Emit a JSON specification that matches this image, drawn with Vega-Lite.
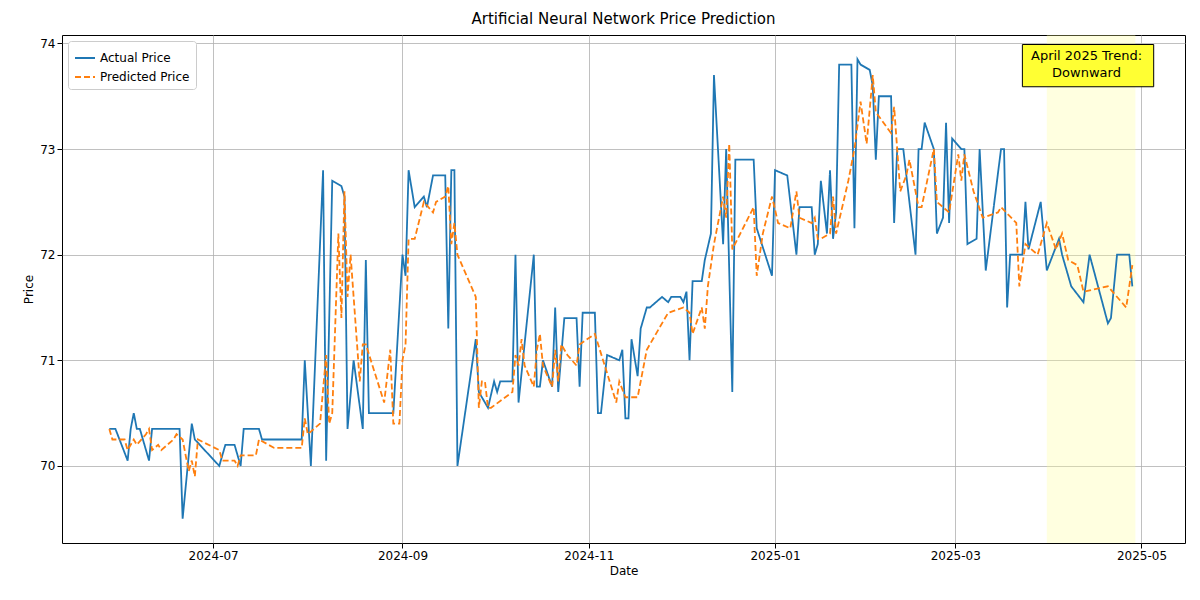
{
  "$schema": "https://vega.github.io/schema/vega-lite/v6.json",
  "autosize": {"type": "none"},
  "width": 1123,
  "height": 508,
  "padding": {"left": 62, "top": 35, "right": 15, "bottom": 57},
  "background": "white",
  "title": {"text": "Artificial Neural Network Price Prediction", "font": "DejaVu Sans", "fontSize": 15, "fontWeight": "normal", "offset": 8},
  "config": {
    "font": "DejaVu Sans",
    "view": {"stroke": "black", "strokeWidth": 1},
    "axis": {"labelFont": "DejaVu Sans", "titleFont": "DejaVu Sans", "labelFontSize": 12, "titleFontSize": 12, "titleFontWeight": "normal", "gridColor": "#b0b0b0", "gridWidth": 0.8, "domain": false, "tickColor": "black", "labelColor": "black", "titleColor": "black"}
  },
  "datasets": {
    "actual": [
      {"date": "2024-05-28", "price": 70.35}, {"date": "2024-05-30", "price": 70.35}, {"date": "2024-06-03", "price": 70.05},
      {"date": "2024-06-04", "price": 70.35}, {"date": "2024-06-05", "price": 70.5}, {"date": "2024-06-06", "price": 70.35},
      {"date": "2024-06-07", "price": 70.35}, {"date": "2024-06-10", "price": 70.05}, {"date": "2024-06-11", "price": 70.35},
      {"date": "2024-06-20", "price": 70.35}, {"date": "2024-06-21", "price": 69.5}, {"date": "2024-06-24", "price": 70.4},
      {"date": "2024-06-25", "price": 70.25}, {"date": "2024-07-03", "price": 70.0}, {"date": "2024-07-05", "price": 70.2},
      {"date": "2024-07-08", "price": 70.2}, {"date": "2024-07-10", "price": 70.0}, {"date": "2024-07-11", "price": 70.35},
      {"date": "2024-07-16", "price": 70.35}, {"date": "2024-07-17", "price": 70.25}, {"date": "2024-07-30", "price": 70.25},
      {"date": "2024-07-31", "price": 71.0}, {"date": "2024-08-02", "price": 70.0}, {"date": "2024-08-06", "price": 72.8},
      {"date": "2024-08-07", "price": 70.05}, {"date": "2024-08-09", "price": 72.7}, {"date": "2024-08-12", "price": 72.65},
      {"date": "2024-08-13", "price": 72.55}, {"date": "2024-08-14", "price": 70.35}, {"date": "2024-08-16", "price": 71.0},
      {"date": "2024-08-19", "price": 70.35}, {"date": "2024-08-20", "price": 71.95}, {"date": "2024-08-21", "price": 70.5},
      {"date": "2024-08-29", "price": 70.5}, {"date": "2024-09-01", "price": 72.0}, {"date": "2024-09-02", "price": 71.8},
      {"date": "2024-09-03", "price": 72.8}, {"date": "2024-09-05", "price": 72.45}, {"date": "2024-09-08", "price": 72.55},
      {"date": "2024-09-09", "price": 72.45}, {"date": "2024-09-11", "price": 72.75}, {"date": "2024-09-15", "price": 72.75},
      {"date": "2024-09-16", "price": 71.3}, {"date": "2024-09-17", "price": 72.8}, {"date": "2024-09-18", "price": 72.8},
      {"date": "2024-09-19", "price": 70.0}, {"date": "2024-09-25", "price": 71.2}, {"date": "2024-09-26", "price": 70.7},
      {"date": "2024-09-29", "price": 70.55}, {"date": "2024-10-01", "price": 70.8}, {"date": "2024-10-02", "price": 70.7},
      {"date": "2024-10-03", "price": 70.8}, {"date": "2024-10-07", "price": 70.8}, {"date": "2024-10-08", "price": 72.0},
      {"date": "2024-10-09", "price": 70.6}, {"date": "2024-10-14", "price": 72.0}, {"date": "2024-10-15", "price": 70.75},
      {"date": "2024-10-16", "price": 70.75}, {"date": "2024-10-17", "price": 71.0}, {"date": "2024-10-20", "price": 70.75},
      {"date": "2024-10-21", "price": 71.5}, {"date": "2024-10-22", "price": 70.7}, {"date": "2024-10-24", "price": 71.4},
      {"date": "2024-10-28", "price": 71.4}, {"date": "2024-10-29", "price": 70.75}, {"date": "2024-10-30", "price": 71.45},
      {"date": "2024-11-03", "price": 71.45}, {"date": "2024-11-04", "price": 70.5}, {"date": "2024-11-05", "price": 70.5},
      {"date": "2024-11-07", "price": 71.05}, {"date": "2024-11-11", "price": 71.0}, {"date": "2024-11-12", "price": 71.1},
      {"date": "2024-11-13", "price": 70.45}, {"date": "2024-11-14", "price": 70.45}, {"date": "2024-11-15", "price": 71.2},
      {"date": "2024-11-17", "price": 70.85}, {"date": "2024-11-18", "price": 71.3}, {"date": "2024-11-20", "price": 71.5},
      {"date": "2024-11-21", "price": 71.5}, {"date": "2024-11-25", "price": 71.6}, {"date": "2024-11-27", "price": 71.55},
      {"date": "2024-11-28", "price": 71.6}, {"date": "2024-12-01", "price": 71.6}, {"date": "2024-12-02", "price": 71.55},
      {"date": "2024-12-03", "price": 71.65}, {"date": "2024-12-04", "price": 71.0}, {"date": "2024-12-05", "price": 71.75},
      {"date": "2024-12-08", "price": 71.75}, {"date": "2024-12-09", "price": 71.95}, {"date": "2024-12-11", "price": 72.2},
      {"date": "2024-12-12", "price": 73.7}, {"date": "2024-12-15", "price": 72.1}, {"date": "2024-12-16", "price": 73.0},
      {"date": "2024-12-18", "price": 70.7}, {"date": "2024-12-19", "price": 72.9}, {"date": "2024-12-25", "price": 72.9},
      {"date": "2024-12-26", "price": 72.25}, {"date": "2024-12-31", "price": 71.8}, {"date": "2025-01-01", "price": 72.8},
      {"date": "2025-01-05", "price": 72.75}, {"date": "2025-01-08", "price": 72.0}, {"date": "2025-01-09", "price": 72.45},
      {"date": "2025-01-13", "price": 72.45}, {"date": "2025-01-14", "price": 72.0}, {"date": "2025-01-15", "price": 72.1},
      {"date": "2025-01-16", "price": 72.7}, {"date": "2025-01-18", "price": 72.2}, {"date": "2025-01-19", "price": 72.8},
      {"date": "2025-01-20", "price": 72.15}, {"date": "2025-01-21", "price": 72.4}, {"date": "2025-01-22", "price": 73.8},
      {"date": "2025-01-26", "price": 73.8}, {"date": "2025-01-27", "price": 72.25}, {"date": "2025-01-28", "price": 73.85},
      {"date": "2025-01-29", "price": 73.8}, {"date": "2025-02-01", "price": 73.75}, {"date": "2025-02-02", "price": 73.6},
      {"date": "2025-02-03", "price": 72.9}, {"date": "2025-02-04", "price": 73.5}, {"date": "2025-02-08", "price": 73.5},
      {"date": "2025-02-09", "price": 72.3}, {"date": "2025-02-10", "price": 73.0}, {"date": "2025-02-12", "price": 73.0},
      {"date": "2025-02-16", "price": 72.0}, {"date": "2025-02-17", "price": 73.0}, {"date": "2025-02-18", "price": 73.0},
      {"date": "2025-02-19", "price": 73.25}, {"date": "2025-02-22", "price": 73.0}, {"date": "2025-02-23", "price": 72.2},
      {"date": "2025-02-25", "price": 72.35}, {"date": "2025-02-26", "price": 73.25}, {"date": "2025-02-27", "price": 72.3},
      {"date": "2025-02-28", "price": 73.1}, {"date": "2025-03-03", "price": 73.0}, {"date": "2025-03-04", "price": 73.0},
      {"date": "2025-03-05", "price": 72.1}, {"date": "2025-03-08", "price": 72.15}, {"date": "2025-03-09", "price": 73.0},
      {"date": "2025-03-11", "price": 71.85}, {"date": "2025-03-16", "price": 73.0}, {"date": "2025-03-17", "price": 73.0},
      {"date": "2025-03-18", "price": 71.5}, {"date": "2025-03-19", "price": 72.0}, {"date": "2025-03-23", "price": 72.0},
      {"date": "2025-03-24", "price": 72.5}, {"date": "2025-03-25", "price": 72.05}, {"date": "2025-03-29", "price": 72.5},
      {"date": "2025-03-31", "price": 71.85}, {"date": "2025-04-04", "price": 72.15}, {"date": "2025-04-05", "price": 72.0},
      {"date": "2025-04-08", "price": 71.7}, {"date": "2025-04-12", "price": 71.55}, {"date": "2025-04-14", "price": 72.0},
      {"date": "2025-04-20", "price": 71.35}, {"date": "2025-04-21", "price": 71.4}, {"date": "2025-04-23", "price": 72.0},
      {"date": "2025-04-27", "price": 72.0}, {"date": "2025-04-28", "price": 71.7}
    ],
    "predicted": [
      {"date": "2024-05-28", "price": 70.35}, {"date": "2024-05-29", "price": 70.25}, {"date": "2024-06-02", "price": 70.25},
      {"date": "2024-06-03", "price": 70.15}, {"date": "2024-06-05", "price": 70.25}, {"date": "2024-06-06", "price": 70.2},
      {"date": "2024-06-09", "price": 70.3}, {"date": "2024-06-10", "price": 70.35}, {"date": "2024-06-11", "price": 70.15},
      {"date": "2024-06-13", "price": 70.2}, {"date": "2024-06-14", "price": 70.15}, {"date": "2024-06-18", "price": 70.25},
      {"date": "2024-06-19", "price": 70.3}, {"date": "2024-06-21", "price": 70.25}, {"date": "2024-06-23", "price": 69.95},
      {"date": "2024-06-24", "price": 70.05}, {"date": "2024-06-25", "price": 69.9}, {"date": "2024-06-26", "price": 70.25},
      {"date": "2024-07-03", "price": 70.15}, {"date": "2024-07-04", "price": 70.05}, {"date": "2024-07-08", "price": 70.05},
      {"date": "2024-07-09", "price": 70.0}, {"date": "2024-07-10", "price": 70.1}, {"date": "2024-07-15", "price": 70.1},
      {"date": "2024-07-16", "price": 70.25}, {"date": "2024-07-21", "price": 70.17}, {"date": "2024-07-30", "price": 70.17},
      {"date": "2024-07-31", "price": 70.45}, {"date": "2024-08-01", "price": 70.3}, {"date": "2024-08-05", "price": 70.4},
      {"date": "2024-08-07", "price": 71.05}, {"date": "2024-08-08", "price": 70.4}, {"date": "2024-08-09", "price": 70.5},
      {"date": "2024-08-11", "price": 72.2}, {"date": "2024-08-12", "price": 71.4}, {"date": "2024-08-13", "price": 72.6},
      {"date": "2024-08-14", "price": 71.6}, {"date": "2024-08-15", "price": 72.0}, {"date": "2024-08-18", "price": 70.8},
      {"date": "2024-08-19", "price": 71.15}, {"date": "2024-08-20", "price": 71.15}, {"date": "2024-08-26", "price": 70.6},
      {"date": "2024-08-28", "price": 71.1}, {"date": "2024-08-29", "price": 70.4}, {"date": "2024-08-31", "price": 70.4},
      {"date": "2024-09-01", "price": 71.0}, {"date": "2024-09-02", "price": 71.15}, {"date": "2024-09-03", "price": 72.15},
      {"date": "2024-09-05", "price": 72.15}, {"date": "2024-09-08", "price": 72.5}, {"date": "2024-09-11", "price": 72.4},
      {"date": "2024-09-12", "price": 72.5}, {"date": "2024-09-15", "price": 72.55}, {"date": "2024-09-16", "price": 72.65},
      {"date": "2024-09-17", "price": 72.1}, {"date": "2024-09-18", "price": 72.3}, {"date": "2024-09-19", "price": 72.0},
      {"date": "2024-09-25", "price": 71.6}, {"date": "2024-09-26", "price": 70.55}, {"date": "2024-09-27", "price": 70.8},
      {"date": "2024-09-28", "price": 70.8}, {"date": "2024-09-29", "price": 70.55}, {"date": "2024-09-30", "price": 70.55},
      {"date": "2024-10-07", "price": 70.7}, {"date": "2024-10-08", "price": 71.05}, {"date": "2024-10-09", "price": 70.95},
      {"date": "2024-10-10", "price": 71.2}, {"date": "2024-10-11", "price": 70.95}, {"date": "2024-10-14", "price": 70.75},
      {"date": "2024-10-15", "price": 71.1}, {"date": "2024-10-16", "price": 71.25}, {"date": "2024-10-17", "price": 70.95},
      {"date": "2024-10-20", "price": 70.75}, {"date": "2024-10-21", "price": 71.1}, {"date": "2024-10-22", "price": 70.8},
      {"date": "2024-10-23", "price": 71.15}, {"date": "2024-10-25", "price": 71.05}, {"date": "2024-10-28", "price": 70.95},
      {"date": "2024-10-29", "price": 71.15}, {"date": "2024-11-03", "price": 71.25}, {"date": "2024-11-10", "price": 70.6},
      {"date": "2024-11-11", "price": 70.8}, {"date": "2024-11-13", "price": 70.65}, {"date": "2024-11-17", "price": 70.65},
      {"date": "2024-11-20", "price": 71.1}, {"date": "2024-11-27", "price": 71.45}, {"date": "2024-12-02", "price": 71.5},
      {"date": "2024-12-04", "price": 71.45}, {"date": "2024-12-05", "price": 71.25}, {"date": "2024-12-08", "price": 71.5},
      {"date": "2024-12-09", "price": 71.3}, {"date": "2024-12-10", "price": 71.7}, {"date": "2024-12-12", "price": 72.1},
      {"date": "2024-12-15", "price": 72.55}, {"date": "2024-12-16", "price": 72.35}, {"date": "2024-12-17", "price": 73.05},
      {"date": "2024-12-18", "price": 72.05}, {"date": "2024-12-25", "price": 72.45}, {"date": "2024-12-26", "price": 71.8},
      {"date": "2024-12-28", "price": 72.2}, {"date": "2024-12-31", "price": 72.55}, {"date": "2025-01-02", "price": 72.3},
      {"date": "2025-01-06", "price": 72.25}, {"date": "2025-01-08", "price": 72.6}, {"date": "2025-01-09", "price": 72.35},
      {"date": "2025-01-13", "price": 72.3}, {"date": "2025-01-14", "price": 72.35}, {"date": "2025-01-15", "price": 72.15},
      {"date": "2025-01-16", "price": 72.15}, {"date": "2025-01-19", "price": 72.2}, {"date": "2025-01-20", "price": 72.55},
      {"date": "2025-01-21", "price": 72.2}, {"date": "2025-01-25", "price": 72.7}, {"date": "2025-01-27", "price": 73.0},
      {"date": "2025-01-29", "price": 73.45}, {"date": "2025-01-31", "price": 73.05}, {"date": "2025-02-02", "price": 73.7},
      {"date": "2025-02-03", "price": 73.35}, {"date": "2025-02-08", "price": 73.15}, {"date": "2025-02-09", "price": 73.4},
      {"date": "2025-02-11", "price": 72.6}, {"date": "2025-02-13", "price": 72.75}, {"date": "2025-02-14", "price": 72.9},
      {"date": "2025-02-17", "price": 72.45}, {"date": "2025-02-18", "price": 72.45}, {"date": "2025-02-22", "price": 73.0},
      {"date": "2025-02-23", "price": 72.5}, {"date": "2025-02-27", "price": 72.4}, {"date": "2025-03-02", "price": 72.95},
      {"date": "2025-03-03", "price": 72.7}, {"date": "2025-03-04", "price": 72.95}, {"date": "2025-03-07", "price": 72.6},
      {"date": "2025-03-10", "price": 72.35}, {"date": "2025-03-15", "price": 72.4}, {"date": "2025-03-16", "price": 72.45},
      {"date": "2025-03-21", "price": 72.3}, {"date": "2025-03-22", "price": 71.7}, {"date": "2025-03-24", "price": 72.1},
      {"date": "2025-03-28", "price": 72.0}, {"date": "2025-03-31", "price": 72.3}, {"date": "2025-04-03", "price": 72.05},
      {"date": "2025-04-05", "price": 72.2}, {"date": "2025-04-07", "price": 71.95}, {"date": "2025-04-10", "price": 71.9},
      {"date": "2025-04-12", "price": 71.65}, {"date": "2025-04-20", "price": 71.7}, {"date": "2025-04-26", "price": 71.5},
      {"date": "2025-04-28", "price": 71.9}
    ],
    "highlight": [{"start": "2025-03-31", "end": "2025-04-29"}],
    "note": [{"x1": "2025-03-23", "x2": "2025-05-05", "y1": 73.59, "y2": 73.99, "xm": "2025-04-13", "ym": 73.94}]
  },
  "layer": [
    {
      "data": {"name": "highlight"},
      "mark": {"type": "rect", "color": "#ffff99", "opacity": 0.3},
      "encoding": {
        "x": {"field": "start", "type": "temporal"},
        "x2": {"field": "end"}
      }
    },
    {
      "data": {"name": "actual"},
      "mark": {"type": "line", "strokeWidth": 1.8},
      "encoding": {
        "x": {"field": "date", "type": "temporal", "title": "Date",
          "scale": {"domain": ["2024-05-12T12:00", "2025-05-15T06:00"]},
          "axis": {"values": ["2024-07-01", "2024-09-01", "2024-11-01", "2025-01-01", "2025-03-01", "2025-05-01"], "format": "%Y-%m", "labelFlush": false}},
        "y": {"field": "price", "type": "quantitative", "title": "Price",
          "scale": {"domain": [69.27, 74.08], "nice": false, "zero": false},
          "axis": {"values": [70, 71, 72, 73, 74], "format": "d"}},
        "color": {"datum": "Actual Price", "type": "nominal",
          "scale": {"domain": ["Actual Price", "Predicted Price"], "range": ["#1f77b4", "#ff7f0e"]},
          "legend": {"title": null, "orient": "top-left", "labelFontSize": 12, "symbolType": "stroke", "symbolStrokeWidth": 2, "symbolSize": 400, "strokeColor": "#cccccc", "fillColor": "white", "padding": 6, "cornerRadius": 3, "offset": 6, "labelFont": "DejaVu Sans"}},
        "strokeDash": {"datum": "Actual Price", "type": "nominal",
          "scale": {"domain": ["Actual Price", "Predicted Price"], "range": [[1, 0], [6, 3]]},
          "legend": {"title": null}}
      }
    },
    {
      "data": {"name": "predicted"},
      "mark": {"type": "line", "strokeWidth": 1.8},
      "encoding": {
        "x": {"field": "date", "type": "temporal"},
        "y": {"field": "price", "type": "quantitative"},
        "color": {"datum": "Predicted Price", "type": "nominal"},
        "strokeDash": {"datum": "Predicted Price", "type": "nominal"}
      }
    },
    {
      "data": {"name": "note"},
      "mark": {"type": "rect", "color": "#ffff33", "stroke": "black", "strokeWidth": 1},
      "encoding": {
        "x": {"field": "x1", "type": "temporal"},
        "x2": {"field": "x2"},
        "y": {"field": "y1", "type": "quantitative"},
        "y2": {"field": "y2"}
      }
    },
    {
      "data": {"name": "note"},
      "mark": {"type": "text", "text": ["April 2025 Trend:", "Downward"], "fontSize": 13, "font": "DejaVu Sans", "color": "black", "lineHeight": 17, "baseline": "top"},
      "encoding": {
        "x": {"field": "xm", "type": "temporal"},
        "y": {"field": "ym", "type": "quantitative"}
      }
    }
  ]
}
